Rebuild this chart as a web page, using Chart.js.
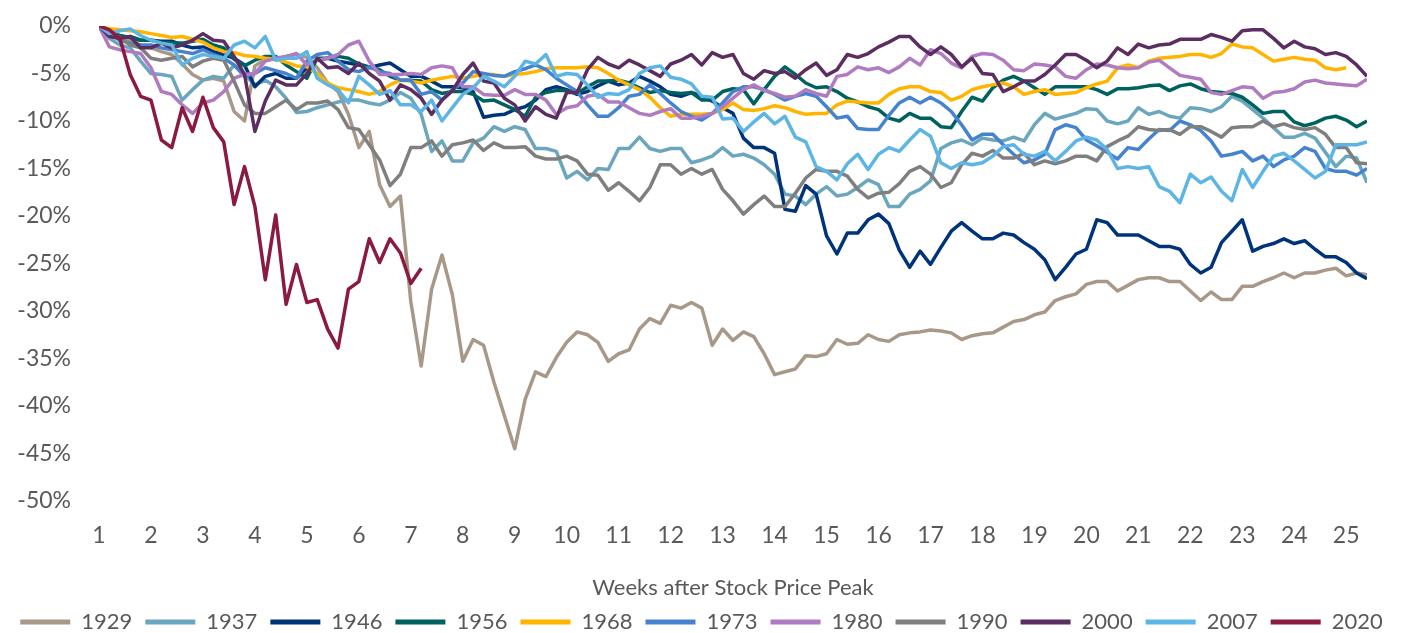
<!DOCTYPE html>
<html>
<head>
<meta charset="utf-8">
<script src="https://cdn.jsdelivr.net/npm/chart.js@4.4.1/dist/chart.umd.min.js"></script>
<style>
  html, body { margin: 0; padding: 0; background: #fff; }
</style>
</head>
<body>
<canvas id="chart" width="1403" height="633"></canvas>
<script>
// === DATA ===
// one value per trading day (5 per week), first value = week 1
const years = ['1929', '1937', '1946', '1956', '1968', '1973', '1980', '1990', '2000', '2007', '2020'];
const colors = ['#A89888', '#6AA6BD', '#00347A', '#00625E', '#FFB400', '#4683CE', '#B07BC0', '#7F7F7F', '#5C2D60', '#5DB5E6', '#8B1A41'];

const y1929 = [0, -0.5, -1.0, -1.5, -2.0, -2.3, -2.7, -3.0, -4.0, -5.1, -5.7, -5.5, -5.8, -9.0, -10.0, -4.2, -3.5, -3.5, -3.2, -3.0,
  -3.3, -4.4, -6.0, -6.9, -9.3, -12.8, -11.1, -16.7, -19.0, -17.9, -29.0, -35.8, -27.7, -24.1, -28.3, -35.3, -33.0, -33.6, -37.5, -41.0,
  -44.5, -39.3, -36.4, -36.9, -34.9, -33.3, -32.2, -32.5, -33.3, -35.3, -34.5, -34.1, -31.9, -30.8, -31.3, -29.4, -29.7, -29.1, -29.7, -33.6,
  -31.9, -33.1, -32.2, -32.7, -34.5, -36.7, -36.4, -36.1, -34.7, -34.8, -34.5, -33.0, -33.5, -33.4, -32.5, -33.0, -33.2, -32.5, -32.3, -32.2,
  -32.0, -32.1, -32.3, -33.0, -32.6, -32.4, -32.3, -31.7, -31.1, -30.9, -30.4, -30.1, -28.9, -28.5, -28.2, -27.2, -26.9, -26.9, -27.9, -27.3,
  -26.7, -26.5, -26.5, -26.9, -26.9, -27.9, -28.9, -28.0, -28.8, -28.8, -27.4, -27.4, -26.9, -26.5, -26.0, -26.5, -26.0, -26.0, -25.7, -25.5,
  -26.3, -26.0, -26.2];
const y1937 = [0, -1.3, -2.0, -2.3, -3.7, -5.0, -5.1, -5.3, -7.8, -6.7, -5.7, -5.3, -5.5, -4.1, -5.1, -6.2, -5.7, -6.4, -7.6, -9.1,
  -9.0, -8.6, -8.3, -8.0, -7.8, -7.8, -8.1, -8.3, -7.8, -7.0, -7.6, -9.3, -13.2, -12.1, -14.2, -14.2, -12.3, -11.8, -10.6, -11.1,
  -10.6, -10.9, -12.9, -12.9, -13.2, -16.0, -15.3, -16.2, -15.0, -15.1, -12.9, -12.9, -11.7, -12.9, -13.2, -12.9, -12.9, -14.4, -14.1, -13.7,
  -12.8, -13.7, -13.5, -13.9, -14.6, -15.6, -17.7, -17.9, -18.8, -17.7, -16.9, -17.9, -17.7, -17.0, -16.2, -16.7, -19.0, -19.0, -17.7, -17.2,
  -16.3, -12.9, -12.3, -12.0, -12.5, -11.8, -12.0, -12.1, -11.7, -12.1, -10.4, -9.2, -9.8, -9.5, -9.2, -8.7, -8.8, -10.0, -10.3, -10.0,
  -8.6, -9.3, -9.0, -9.5, -9.7, -8.6, -8.7, -9.0, -8.5, -7.4, -7.9, -8.8, -9.7, -10.7, -11.7, -11.7, -11.3, -11.8, -13.3, -14.8,
  -13.7, -13.9, -16.5];
const y1946 = [0, -1.0, -1.3, -1.1, -1.5, -1.5, -1.6, -1.6, -2.0, -2.3, -2.2, -2.7, -3.0, -3.4, -4.1, -6.4, -5.3, -5.0, -5.5, -5.5,
  -4.4, -3.6, -3.4, -3.7, -3.9, -4.1, -4.4, -4.1, -3.9, -4.6, -5.3, -5.3, -5.8, -6.4, -6.4, -6.5, -6.9, -9.6, -9.4, -9.3,
  -8.8, -8.5, -7.8, -6.7, -6.4, -6.7, -7.2, -6.9, -6.3, -5.8, -6.2, -6.0, -5.3, -5.8, -6.4, -7.2, -7.4, -7.0, -7.4, -7.9,
  -8.6, -9.2, -11.8, -12.8, -12.8, -13.4, -19.3, -19.5, -16.8, -17.7, -22.1, -24.0, -21.8, -21.8, -20.4, -19.8, -20.8, -23.6, -25.4, -23.7,
  -25.1, -23.3, -21.6, -20.7, -21.6, -22.4, -22.4, -21.8, -22.0, -22.8, -23.5, -24.6, -26.7, -25.4, -24.0, -23.5, -20.4, -20.7, -22.0, -22.0,
  -22.0, -22.6, -23.2, -23.2, -23.5, -25.1, -26.0, -25.4, -22.8, -21.6, -20.4, -23.7, -23.2, -22.9, -22.4, -22.9, -22.6, -23.5, -24.3, -24.3,
  -24.9, -26.0, -26.6];
const y1956 = [0, -0.7, -1.0, -1.2, -1.5, -1.5, -1.7, -1.8, -1.8, -1.6, -1.4, -2.0, -2.3, -3.5, -4.2, -3.6, -3.2, -3.2, -4.1, -4.8,
  -5.5, -3.4, -3.4, -3.2, -3.4, -4.0, -4.3, -4.6, -5.3, -5.7, -5.7, -5.8, -6.7, -7.1, -6.9, -6.9, -7.2, -7.9, -7.8, -8.3,
  -8.8, -9.5, -7.5, -7.0, -6.8, -6.8, -7.1, -6.4, -5.8, -5.8, -5.7, -6.0, -6.5, -7.0, -6.8, -7.0, -7.1, -7.0, -7.8, -7.8,
  -6.9, -6.6, -6.7, -8.2, -6.7, -5.3, -4.3, -5.1, -6.0, -6.5, -6.4, -6.9, -7.6, -8.0, -8.5, -8.8, -9.7, -10.0, -9.2, -9.7,
  -9.7, -10.6, -10.7, -9.0, -7.5, -7.9, -6.5, -5.7, -5.3, -5.8, -6.5, -7.2, -6.4, -6.4, -6.4, -6.4, -6.7, -7.2, -6.6, -6.6,
  -6.5, -6.3, -6.2, -6.8, -6.3, -6.1, -6.6, -6.9, -7.0, -7.1, -7.5, -8.3, -9.2, -9.0, -9.0, -10.1, -10.5, -10.2, -9.7, -9.5,
  -9.9, -10.6, -10.0];
const y1968 = [0, -0.3, -0.4, -0.5, -0.6, -0.8, -1.0, -1.2, -1.1, -1.4, -1.7, -2.3, -2.7, -2.8, -3.1, -3.2, -3.4, -3.5, -3.8, -4.2,
  -4.3, -5.0, -6.0, -6.5, -6.7, -6.9, -7.2, -6.9, -6.2, -5.7, -5.8, -6.0, -5.7, -5.5, -5.3, -5.5, -5.3, -5.1, -5.1, -5.3,
  -5.1, -5.0, -4.8, -4.5, -4.4, -4.4, -4.4, -4.3, -4.4, -5.0, -5.7, -6.2, -6.7, -7.5, -8.6, -9.5, -9.3, -9.3, -9.3, -9.2,
  -8.8, -8.1, -8.8, -8.9, -8.7, -8.4, -8.6, -9.0, -9.3, -9.2, -9.2, -8.3, -7.9, -8.0, -8.1, -8.1, -7.2, -6.6, -6.4, -6.4,
  -6.9, -7.0, -7.8, -7.4, -6.7, -6.4, -6.2, -6.0, -6.4, -7.2, -6.9, -6.7, -7.2, -7.1, -7.0, -6.5, -6.1, -5.8, -4.4, -4.1,
  -4.4, -3.7, -3.4, -3.3, -3.2, -3.0, -3.0, -3.3, -2.9, -1.9, -2.2, -2.3, -3.0, -3.7, -3.5, -3.3, -3.5, -3.6, -4.4, -4.6,
  -4.4];
const y1973 = [0, -0.8, -1.5, -1.8, -2.0, -2.0, -2.3, -2.5, -2.7, -2.9, -2.5, -3.0, -3.4, -4.1, -5.3, -5.0, -4.4, -4.7, -5.0, -5.5,
  -3.7, -3.0, -2.8, -3.7, -4.6, -4.8, -4.3, -4.8, -5.0, -5.7, -5.7, -7.2, -6.9, -7.8, -6.7, -6.0, -4.8, -5.0, -5.2, -5.3,
  -4.8, -4.5, -4.1, -4.6, -5.5, -6.2, -6.9, -8.3, -9.5, -9.5, -8.6, -7.4, -7.2, -6.2, -7.1, -8.1, -9.0, -9.5, -9.9, -9.2,
  -8.1, -6.9, -6.4, -6.4, -6.7, -7.2, -7.8, -7.4, -7.1, -7.4, -8.5, -9.7, -9.5, -10.8, -10.9, -10.9, -9.4, -8.1, -7.5, -8.1,
  -7.5, -8.1, -9.0, -10.4, -12.0, -11.4, -11.4, -12.5, -13.5, -14.4, -14.1, -13.5, -10.9, -10.4, -10.7, -12.0, -12.6, -13.3, -14.0, -12.8,
  -13.0, -11.9, -10.9, -11.0, -10.0, -10.4, -11.0, -12.1, -13.7, -13.5, -13.2, -14.2, -13.7, -14.8, -14.1, -13.7, -12.8, -13.2, -15.0, -15.3,
  -15.3, -15.7, -15.0];
const y1980 = [0, -2.2, -2.5, -2.7, -2.9, -4.4, -6.9, -7.2, -8.3, -9.2, -8.1, -7.8, -6.9, -5.5, -5.1, -5.0, -3.7, -3.4, -3.2, -2.9,
  -4.1, -3.6, -3.4, -3.0, -2.0, -1.6, -3.7, -5.1, -5.1, -5.1, -5.0, -5.1, -4.4, -4.2, -4.4, -6.4, -6.4, -7.2, -7.3, -7.3,
  -6.7, -7.2, -7.2, -7.8, -9.3, -8.6, -8.4, -7.4, -7.2, -8.0, -8.0, -8.6, -9.2, -9.4, -9.0, -8.7, -9.7, -9.7, -9.5, -9.2,
  -8.5, -7.6, -6.7, -6.2, -6.8, -7.1, -7.5, -7.4, -6.7, -7.1, -7.4, -5.3, -5.1, -4.3, -4.6, -4.4, -4.9, -4.3, -3.4, -4.1,
  -2.5, -2.9, -3.9, -4.4, -3.2, -2.9, -3.0, -3.6, -4.6, -4.7, -4.0, -4.1, -4.3, -5.3, -5.5, -4.6, -4.0, -4.1, -4.4, -4.5,
  -4.4, -3.8, -3.6, -4.4, -5.2, -5.4, -5.6, -7.0, -7.2, -6.8, -6.4, -6.5, -7.6, -7.0, -6.9, -6.6, -5.9, -5.7, -6.0, -6.1,
  -6.2, -6.3, -5.6];
const y1990 = [0, -0.8, -1.2, -2.0, -2.3, -3.4, -3.6, -3.4, -3.2, -4.3, -3.7, -3.4, -3.6, -5.8, -8.3, -9.2, -9.2, -8.5, -7.8, -8.8,
  -8.1, -8.1, -7.9, -8.8, -10.7, -10.9, -12.5, -14.1, -16.8, -15.6, -12.8, -12.8, -12.1, -13.7, -12.5, -12.3, -12.0, -13.1, -12.3, -12.8,
  -12.8, -12.7, -13.7, -14.0, -14.0, -13.7, -14.2, -15.6, -15.7, -17.3, -16.5, -17.4, -18.4, -17.0, -14.6, -14.6, -15.6, -15.0, -15.6, -15.1,
  -17.2, -18.4, -19.8, -18.8, -17.9, -19.0, -19.0, -17.6, -16.0, -15.1, -15.3, -15.3, -15.8, -17.2, -18.1, -17.6, -17.5, -16.6, -15.3, -14.8,
  -15.6, -17.0, -16.5, -14.6, -13.4, -13.7, -13.1, -13.9, -13.9, -13.4, -14.6, -14.2, -14.5, -14.2, -13.7, -13.7, -14.2, -12.7, -12.1, -11.6,
  -10.6, -10.9, -11.0, -10.9, -11.4, -10.6, -10.6, -11.1, -11.7, -10.7, -10.6, -10.6, -10.0, -10.6, -10.3, -10.7, -10.9, -10.7, -11.4, -12.8,
  -12.8, -14.4, -14.5];
const y2000 = [0, -1.1, -1.3, -1.1, -2.3, -2.3, -1.8, -2.3, -2.0, -1.5, -0.8, -1.5, -1.6, -3.2, -5.1, -11.1, -7.9, -5.7, -6.2, -6.2,
  -5.0, -3.4, -4.4, -4.3, -5.0, -3.9, -5.0, -5.8, -7.8, -6.2, -6.7, -7.6, -9.3, -7.8, -6.8, -5.1, -3.9, -5.8, -6.0, -7.6,
  -8.3, -10.0, -8.5, -9.3, -9.7, -7.0, -7.0, -4.6, -3.3, -4.0, -4.4, -3.6, -4.1, -4.7, -5.3, -4.0, -3.6, -3.0, -4.1, -2.8,
  -3.3, -3.0, -5.0, -5.6, -4.7, -5.0, -4.8, -5.5, -4.6, -3.9, -5.2, -4.6, -3.0, -3.3, -2.9, -2.2, -1.7, -1.1, -1.1, -2.2,
  -3.0, -2.2, -3.0, -4.3, -3.4, -5.0, -5.1, -6.9, -6.4, -5.8, -5.8, -5.1, -4.1, -3.0, -3.0, -3.6, -4.4, -3.7, -2.3, -3.0,
  -1.9, -2.3, -2.0, -1.9, -1.4, -1.4, -1.4, -0.9, -1.2, -1.6, -0.5, -0.4, -0.4, -1.3, -2.3, -1.6, -2.2, -2.4, -3.0, -2.8,
  -3.2, -4.1, -5.3];
const y2007 = [0, -0.8, -0.5, -0.3, -1.0, -1.5, -1.8, -2.0, -4.1, -3.4, -3.0, -3.2, -3.4, -2.0, -1.6, -2.3, -1.1, -3.6, -3.4, -3.4,
  -2.7, -5.5, -6.2, -6.7, -8.1, -5.3, -6.2, -7.2, -6.8, -8.3, -8.3, -9.0, -7.8, -10.0, -8.6, -7.2, -6.5, -5.3, -5.8, -6.4,
  -5.3, -3.7, -4.0, -3.0, -5.3, -5.0, -5.1, -6.2, -7.5, -7.1, -7.2, -6.7, -5.0, -4.4, -4.2, -5.4, -5.6, -6.1, -7.4, -7.5,
  -9.8, -9.7, -11.1, -10.1, -9.2, -10.3, -9.5, -11.7, -12.2, -14.8, -15.3, -16.2, -14.5, -13.5, -15.1, -13.5, -12.8, -13.2, -12.0, -10.9,
  -11.6, -14.4, -15.0, -14.4, -14.6, -14.4, -13.7, -12.7, -12.5, -13.5, -13.7, -13.2, -14.2, -13.2, -12.1, -11.7, -12.0, -13.0, -15.0, -14.8,
  -15.0, -14.8, -16.9, -17.4, -18.6, -15.6, -16.5, -15.9, -17.4, -18.4, -15.1, -17.0, -15.3, -13.7, -13.4, -14.2, -15.1, -16.0, -15.3, -12.5,
  -12.5, -12.5, -12.2];
const y2020 = [0, -0.4, -1.3, -5.1, -7.4, -7.8, -12.0, -12.8, -8.6, -11.1, -7.5, -10.7, -12.2, -18.8, -14.8, -19.0, -26.7, -19.9, -29.3, -25.1,
  -29.1, -28.8, -31.9, -33.9, -27.7, -26.9, -22.4, -24.9, -22.4, -23.9, -27.1, -25.5];

const series = [y1929, y1937, y1946, y1956, y1968, y1973, y1980, y1990, y2000, y2007, y2020];
const daysPerWeek = 5;

// === CHART ===
const textColor = '#595959';
const tickFont = { family: 'Lato, "Open Sans", sans-serif', size: 23 };
const legendFont = { family: 'Lato, "Open Sans", sans-serif', size: 22 };

const datasets = series.map((values, i) => ({
  label: years[i],
  data: values.map((v, d) => ({ x: 1 + d / daysPerWeek, y: v })),
  borderColor: colors[i],
  backgroundColor: colors[i],
  borderWidth: 3.5,
  borderJoinStyle: 'round',
  pointRadius: 0,
  pointStyle: 'line',
  tension: 0,
  fill: false,
  order: series.length - i   // later years drawn on top
}));

// legend: one row across the whole canvas, a little less height
const legendNudge = {
  id: 'legendNudge',
  beforeInit(chart) {
    const fit = chart.legend.fit;
    chart.legend.fit = function () {
      this.maxWidth = 1403;
      fit.call(this);
      this.height -= 10;
    };
  },
  afterLayout(chart) {
    chart.legend.left = 0;
    chart.legend.right = 1403;
  }
};

new Chart(document.getElementById('chart'), {
  type: 'line',
  data: { datasets },
  plugins: [legendNudge],
  options: {
    responsive: false,
    devicePixelRatio: 1,
    animation: false,
    layout: { padding: { top: 26, right: 36, left: 0, bottom: 0 } },
    plugins: {
      tooltip: { enabled: false },
      legend: {
        position: 'bottom',
        labels: {
          usePointStyle: true,
          pointStyleWidth: 50,
          padding: 13,
          color: textColor,
          font: legendFont,
          sort: (a, b) => a.datasetIndex - b.datasetIndex,
          generateLabels: chart => Chart.defaults.plugins.legend.labels.generateLabels(chart)
            .map(item => Object.assign(item, { lineWidth: 5 }))
        }
      }
    },
    scales: {
      x: {
        type: 'linear',
        min: 1,
        max: 25.4,
        grid: { display: false, drawTicks: false },
        border: { display: false },
        ticks: { stepSize: 1, includeBounds: false, padding: 21, color: textColor, font: tickFont, maxRotation: 0 },
        title: { display: true, text: 'Weeks after Stock Price Peak', color: textColor, font: legendFont, padding: { top: 4, bottom: -3 } },
        afterFit: s => { s.height = 97; }
      },
      y: {
        min: -50,
        max: 0,
        grid: { display: false, drawTicks: false },
        border: { display: false },
        ticks: { stepSize: 5, padding: 28, color: textColor, font: tickFont, callback: v => v + '%' },
        afterFit: s => { s.width = 99; s.paddingTop = 0; s.paddingBottom = 0; }
      }
    }
  }
});
</script>
</body>
</html>
